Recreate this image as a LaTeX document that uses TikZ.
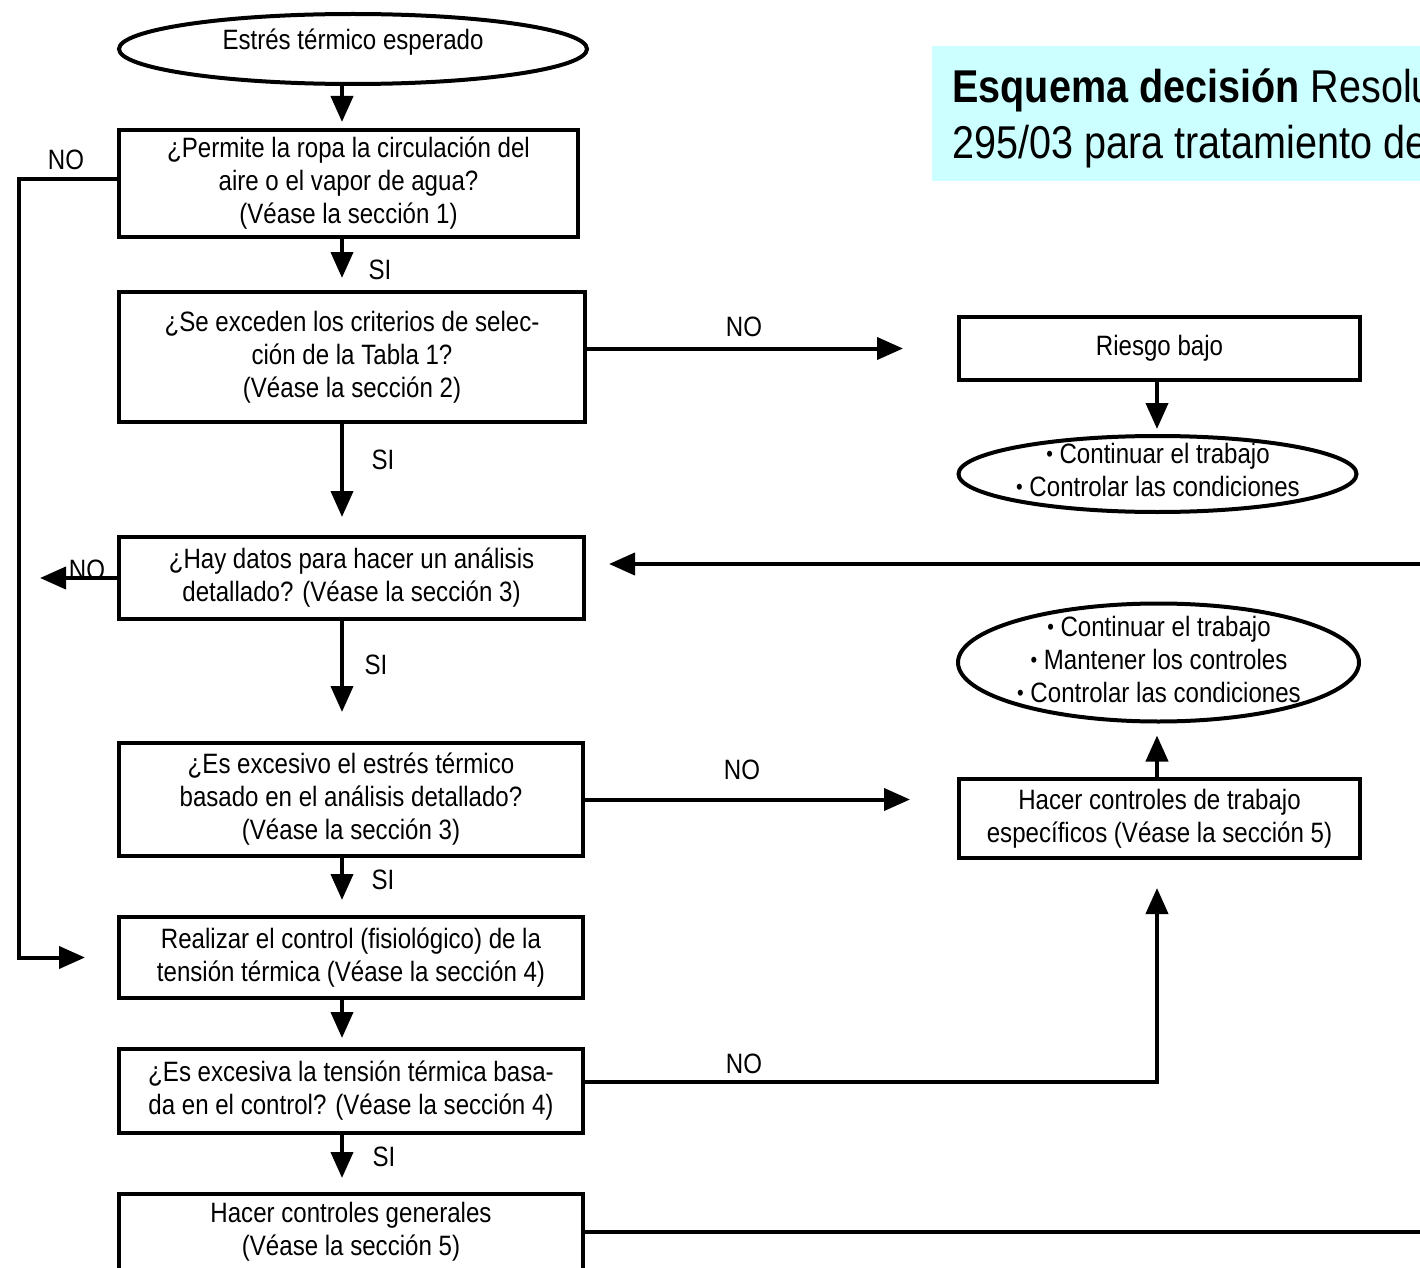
\documentclass[tikz,border=0pt]{standalone}
\usepackage{fontspec}
\setmainfont{Liberation Sans}[FakeStretch=0.86]
\usetikzlibrary{arrows.meta,shapes.geometric}
\definecolor{titlecyan}{RGB}{204,255,255}
\newcommand\boxfont{\fontsize{14pt}{16.5pt}\selectfont}
\newcommand\titlefont{\fontsize{23pt}{28pt}\selectfont}
\newcommand\bul{{\fontsize{11pt}{11pt}\selectfont\raisebox{0.15ex}{•}}\ }
\begin{document}
\begin{tikzpicture}[x=0.5pt,y=-0.5pt,
  box/.style={draw, line width=2pt, rectangle, align=center, inner sep=1pt, font=\boxfont},
  oval/.style={draw, line width=2pt, ellipse, inner sep=0pt},
  txt/.style={align=center, inner sep=0pt, font=\boxfont},
  lbl/.style={inner sep=0pt, font=\boxfont},
  arr/.style={line width=2pt, -{Triangle[length=13pt,width=11pt]}}]
\useasboundingbox (0,0) rectangle (1420,1268);
\clip (0,0) rectangle (1420,1268);

% title banner
\node[fill=titlecyan, anchor=north west, minimum width=254pt, minimum height=67.5pt, inner sep=0pt] (tbox) at (932,46) {};
\node[anchor=base west, inner sep=0pt, font=\titlefont] (t1) at (952,103) {\textbf{Esquema decisión} Resolu};
\node[anchor=base west, inner sep=0pt, font=\titlefont] (t2) at (952,159) {295/03 para tratamiento de};

% main column
\node[oval, minimum width=234pt, minimum height=35pt] (e1) at (353,49) {};
\node[txt, anchor=base] (e1t) at (353,50) {Estrés térmico esperado};

\node[box, minimum width=229.5pt, minimum height=53.5pt] (b1) at (348.5,183.5)
  {¿Permite la ropa la circulación del\\aire o el vapor de agua?\\(Véase la sección 1)};
\node[box, minimum width=233pt, minimum height=65pt] (b2) at (352,357)
  {¿Se exceden los criterios de selec-\\ción de la Tabla 1?\\(Véase la sección 2)};
\node[box, minimum width=232.5pt, minimum height=41pt] (b3) at (351.5,578)
  {¿Hay datos para hacer un análisis\\detallado? (Véase la sección 3)};
\node[box, minimum width=232pt, minimum height=56.5pt] (b4) at (351,799.5)
  {¿Es excesivo el estrés térmico\\basado en el análisis detallado?\\(Véase la sección 3)};
\node[box, minimum width=232pt, minimum height=40.5pt] (b5) at (351,957.5)
  {Realizar el control (fisiológico) de la\\tensión térmica (Véase la sección 4)};
\node[box, minimum width=232pt, minimum height=42pt] (b6) at (351,1091)
  {¿Es excesiva la tensión térmica basa-\\da en el control? (Véase la sección 4)};
\node[box, minimum width=232pt, minimum height=38pt] (b7) at (351,1232)
  {Hacer controles generales\\(Véase la sección 5)};

% right column
\node[box, minimum width=200.5pt, minimum height=31.5pt] (r1) at (1159.5,348.5) {Riesgo bajo};
\node[oval, minimum width=199pt, minimum height=38pt] (e2) at (1157.5,474) {};
\node[txt] (e2t) at (1158,470) {\bul Continuar el trabajo\\\bul Controlar las condiciones};
\node[oval, minimum width=200.5pt, minimum height=59pt] (e3) at (1158.5,662.5) {};
\node[txt] (e3t) at (1159,659) {\bul Continuar el trabajo\\\bul Mantener los controles\\\bul Controlar las condiciones};
\node[box, minimum width=200.5pt, minimum height=39.5pt] (hc) at (1159.5,818.5)
  {Hacer controles de trabajo\\específicos (Véase la sección 5)};

% guide coordinates for the connectors
\coordinate (col) at (342,0);
\coordinate (rcol) at (1157,0);
\coordinate (lx) at (19,0);
\coordinate (loopx) at (1450,0);
\coordinate (n3) at (40,578);
\coordinate (b1l) at ([yshift=2pt]b1.west);
\coordinate (b3r) at ([yshift=7pt]b3.east);
\coordinate (b6r) at ([yshift=4.5pt]b6.east);

% main flow
\draw[arr, shorten >=3pt] (e1.south -| col) -- (b1.north -| col);
\draw[arr, shorten >=6pt] (b1.south -| col) -- (b2.north -| col);
\draw[arr, shorten >=9pt] (b2.south -| col) -- (b3.north -| col);
\draw[arr, shorten >=14.5pt] (b3.south -| col) -- (b4.north -| col);
\draw[arr, shorten >=7.5pt] (b4.south -| col) -- (b5.north -| col);
\draw[arr, shorten >=4.5pt] (b5.south -| col) -- (b6.north -| col);
\draw[arr, shorten >=7pt] (b6.south -| col) -- (b7.north -| col);

% side branches
\draw[arr, shorten >=16pt] (b1l) -- (b1l -| lx) -- (lx |- b5.west) -- (b5.west);
\draw[arr] (b3.west) -- (n3);
\draw[arr, shorten >=27pt] (b2.east |- r1.west) -- (r1.west);
\draw[arr, shorten >=23.5pt] (b4.east) -- (b4.east -| hc.west);
\draw[arr, shorten >=2.5pt] (r1.south -| rcol) -- (e2.north -| rcol);
\draw[arr, shorten >=6pt] (hc.north -| rcol) -- (e3.south -| rcol);
\draw[arr, shorten >=14pt] (b6r) -| (hc.south -| rcol);
\draw[arr, shorten >=11.5pt] (b7.east) -| (b3r -| loopx) -- (b3r);

% branch labels
\node[lbl] (no1) at (66,160) {NO};
\node[lbl] (si1) at (380,270) {SI};
\node[lbl] (no2) at (744,327) {NO};
\node[lbl] (si2) at (383,460) {SI};
\node[lbl] (no3) at (87,570) {NO};
\node[lbl] (si3) at (376,665) {SI};
\node[lbl] (no4) at (742,770) {NO};
\node[lbl] (si4) at (383,880) {SI};
\node[lbl] (no5) at (744,1064) {NO};
\node[lbl] (si5) at (384,1157) {SI};
\end{tikzpicture}
\end{document}
